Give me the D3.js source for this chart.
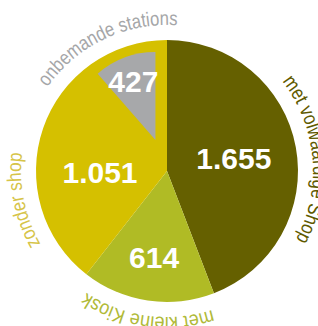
<!DOCTYPE html>
<html>
<head>
<meta charset="utf-8">
<script src="https://cdn.jsdelivr.net/npm/d3@7"></script>
<style>
  body { margin: 0; background: #fff; }
  svg { display: block; }
</style>
</head>
<body>
<div id="chart"></div>
<script>
// data
const categories = ["met volwaardige Shop", "met kleine Kiosk", "zonder shop", "onbemande stations"];
const values = [1655, 614, 1051, 427];
const valueLabels = ["1.655", "614", "1.051", "427"];

const sliceColors = ["#656000", "#b0bb25", "#d5c000", "#a7a8aa"];
const textColors = ["#5f5a00", "#b0ba38", "#d6c448", "#a5a6a8"];

const width = 318, height = 326;
const cx = 167, cy = 171, radius = 131;

const svg = d3.select("#chart").append("svg")
    .attr("width", width)
    .attr("height", height);

const g = svg.append("g").attr("transform", `translate(${cx},${cy})`);

const pie = d3.pie().sort(null).value(d => d);
const arcs = pie(values);

const arc = d3.arc().innerRadius(0).outerRadius(radius);

// the last slice (unmanned) is drawn smaller and pushed out inside the yellow one
const last = arcs.length - 1;
const small = d3.arc().innerRadius(0).outerRadius(88);
const pushOut = 33;

// draw slices; yellow fills under the grey wedge too
arcs.forEach((a, i) => {
    if (i === last) return;
    let a1 = a.endAngle;
    if (i === last - 1) a1 = arcs[last].endAngle;
    g.append("path")
        .attr("d", arc({startAngle: a.startAngle, endAngle: a1}))
        .attr("fill", sliceColors[i]);
});

const grey = arcs[last];
const mid = (grey.startAngle + grey.endAngle) / 2;
const off = [pushOut * Math.sin(mid), -pushOut * Math.cos(mid)];
const greyG = g.append("g").attr("transform", `translate(${off[0]},${off[1]})`);
greyG.append("path")
    .attr("d", small(grey))
    .attr("fill", sliceColors[last]);

// value labels inside the slices
const labelR = [68, 87, 67, 63];
arcs.forEach((a, i) => {
    const m = (a.startAngle + a.endAngle) / 2;
    let x = labelR[i] * Math.sin(m), y = -labelR[i] * Math.cos(m);
    if (i === last) { x += off[0]; y += off[1]; }
    g.append("text")
        .attr("x", x)
        .attr("y", y)
        .attr("dy", "0.35em")
        .attr("text-anchor", "middle")
        .attr("font-family", "'Liberation Sans', Arial, sans-serif")
        .attr("font-weight", "bold")
        .attr("font-size", 30)
        .attr("fill", "#fff")
        .text(valueLabels[i]);
});

// curved category labels round the outside (degrees, clockwise from top)
const labelSpans = [[52, 118], [162, 213.5], [240, 277], [-55, 4]];
const textR = 146;
const rad = d => d * Math.PI / 180;

labelSpans.forEach((s, i) => {
    const p = d3.path();
    p.arc(0, 0, textR, rad(s[0]) - Math.PI / 2, rad(s[1]) - Math.PI / 2);
    const id = "lab" + i;
    g.append("path")
        .attr("id", id)
        .attr("d", p.toString())
        .attr("fill", "none");
    g.append("text")
        .attr("font-family", "'Liberation Sans Narrow', 'Liberation Sans', Arial, sans-serif")
        .attr("font-size", 20)
        .attr("fill", textColors[i])
        .append("textPath")
        .attr("href", "#" + id)
        .attr("textLength", textR * rad(s[1] - s[0]))
        .attr("lengthAdjust", "spacingAndGlyphs")
        .text(categories[i]);
});
</script>
</body>
</html>
